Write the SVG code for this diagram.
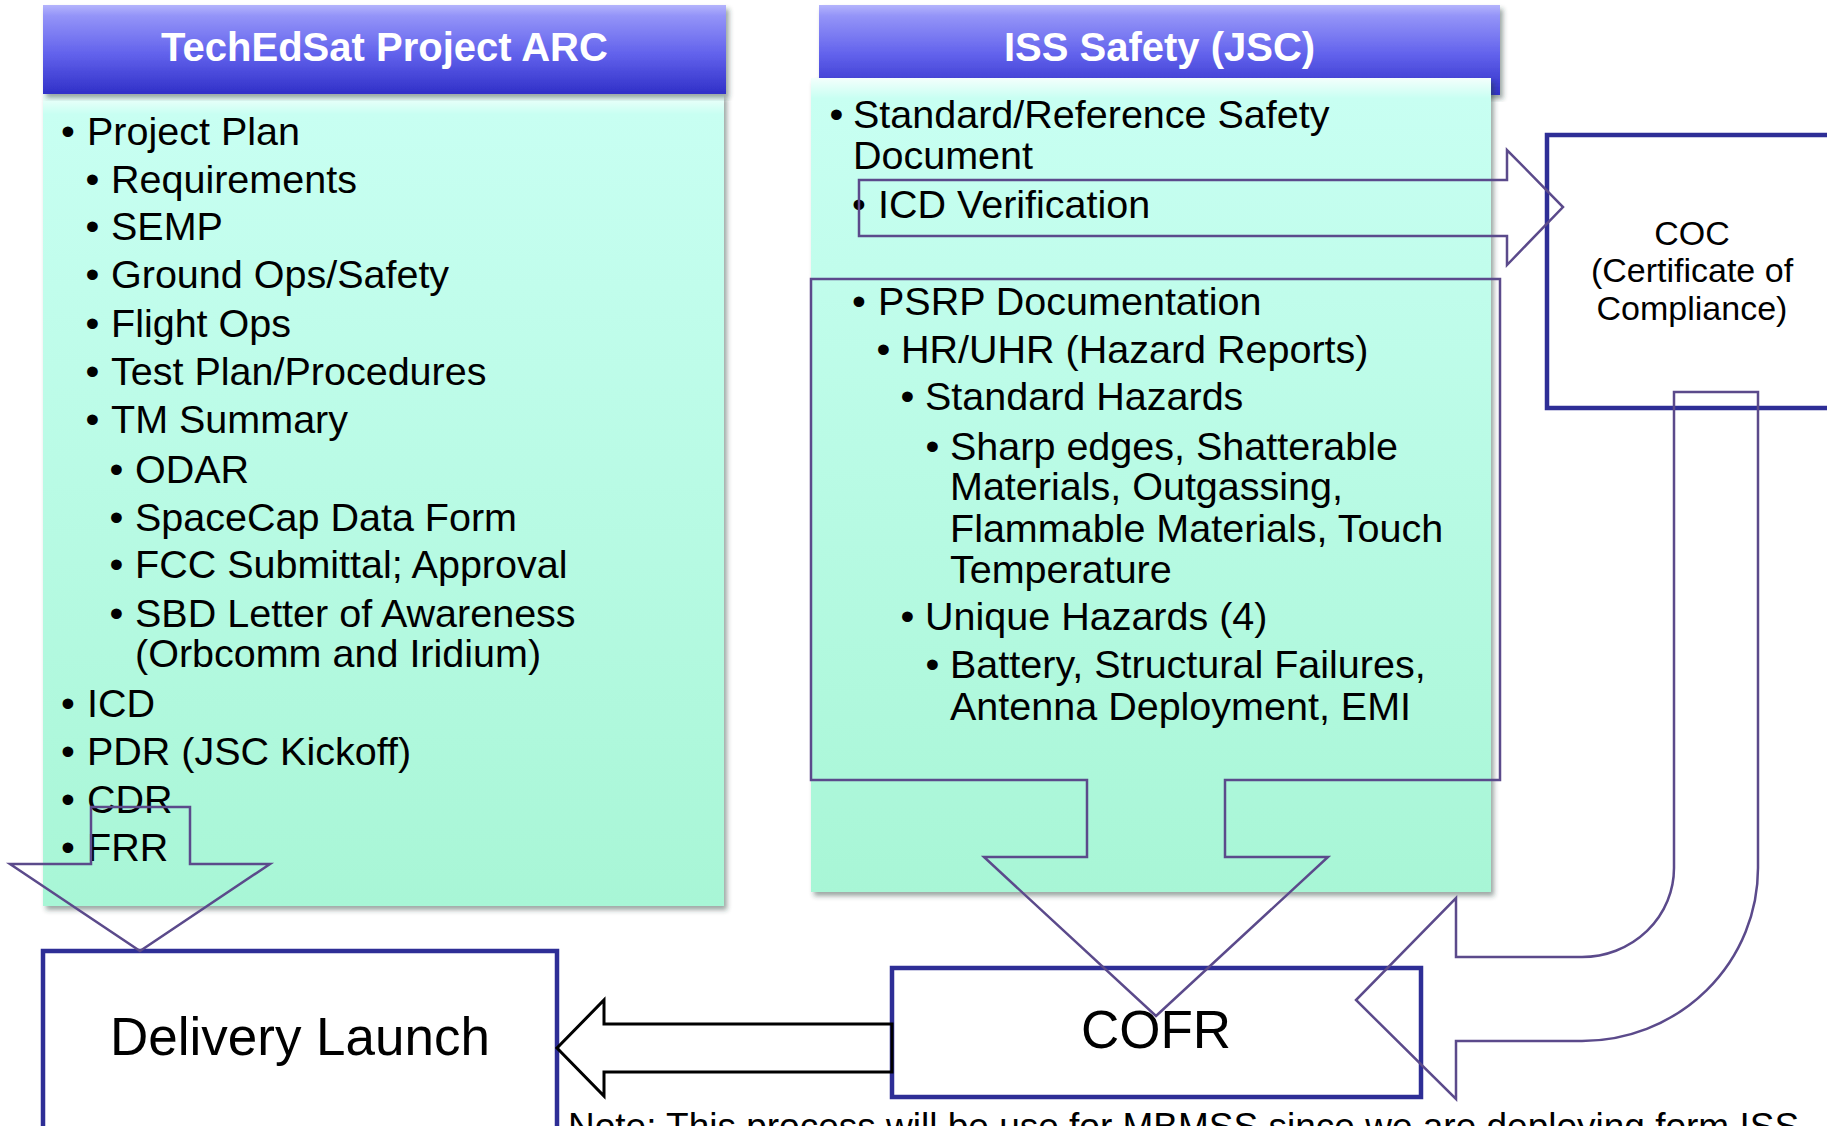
<svg xmlns="http://www.w3.org/2000/svg" width="1827" height="1126" viewBox="0 0 1827 1126">
<defs>
<linearGradient id="hdr" x1="0" y1="0" x2="0" y2="1">
<stop offset="0" stop-color="#b4b4fc"/>
<stop offset="0.12" stop-color="#9494f8"/>
<stop offset="0.55" stop-color="#6262ec"/>
<stop offset="1" stop-color="#3030c8"/>
</linearGradient>
<linearGradient id="body" x1="0" y1="0" x2="0" y2="1">
<stop offset="0" stop-color="#f4fffc"/>
<stop offset="0.025" stop-color="#c8fff2"/>
<stop offset="1" stop-color="#a8f6d6"/>
</linearGradient>
<filter id="sh" x="-5%" y="-5%" width="112%" height="112%">
<feDropShadow dx="3" dy="4" stdDeviation="2.5" flood-color="#203a30" flood-opacity="0.45"/>
</filter>
<style>
.t{font-family:"Liberation Sans",Arial,sans-serif;font-size:39.5px;fill:#000}
.b{text-anchor:middle}
.h{font-family:"Liberation Sans",Arial,sans-serif;font-size:40px;font-weight:bold;fill:#fff;text-anchor:middle}
.box{fill:#fff;stroke:#2e2e96;stroke-width:4.5}
.lbl{font-family:"Liberation Sans",Arial,sans-serif;fill:#000;text-anchor:middle}
.ar{fill:none;stroke:#5b4a8b;stroke-width:2.5;stroke-linejoin:miter}
.ak{fill:none;stroke:#000;stroke-width:3}
</style>
</defs>
<rect width="1827" height="1126" fill="#fff"/>

<g id="node-techedsat">
<rect x="43" y="94" width="681" height="812" fill="url(#body)" filter="url(#sh)"/>
<rect x="43" y="5" width="683" height="89" fill="url(#hdr)" filter="url(#sh)"/>
<text class="h" x="384.5" y="61">TechEdSat Project ARC</text>
<text class="t b" x="68" y="145">•</text><text class="t" x="87" y="145">Project Plan</text>
<text class="t b" x="92.5" y="193">•</text><text class="t" x="111" y="193">Requirements</text>
<text class="t b" x="92.5" y="240">•</text><text class="t" x="111" y="240">SEMP</text>
<text class="t b" x="92.5" y="288">•</text><text class="t" x="111" y="288">Ground Ops/Safety</text>
<text class="t b" x="92.5" y="337">•</text><text class="t" x="111" y="337">Flight Ops</text>
<text class="t b" x="92.5" y="385">•</text><text class="t" x="111" y="385">Test Plan/Procedures</text>
<text class="t b" x="92.5" y="433">•</text><text class="t" x="111" y="433">TM Summary</text>
<text class="t b" x="116.5" y="483">•</text><text class="t" x="135" y="483">ODAR</text>
<text class="t b" x="116.5" y="531">•</text><text class="t" x="135" y="531">SpaceCap Data Form</text>
<text class="t b" x="116.5" y="578">•</text><text class="t" x="135" y="578">FCC Submittal; Approval</text>
<text class="t b" x="116.5" y="627">•</text><text class="t" x="135" y="627">SBD Letter of Awareness</text>
<text class="t" x="135" y="667">(Orbcomm and Iridium)</text>
<text class="t b" x="68" y="717">•</text><text class="t" x="87" y="717">ICD</text>
<text class="t b" x="68" y="765">•</text><text class="t" x="87" y="765">PDR (JSC Kickoff)</text>
<text class="t b" x="68" y="813">•</text><text class="t" x="87" y="813">CDR</text>
<text class="t b" x="68" y="861">•</text><text class="t" x="87" y="861">FRR</text>
</g>

<g id="node-iss">
<rect x="819" y="5" width="681" height="90" fill="url(#hdr)" filter="url(#sh)"/>
<text class="h" x="1159.5" y="61">ISS Safety (JSC)</text>
<rect x="811" y="78" width="680" height="814" fill="url(#body)" filter="url(#sh)"/>
<text class="t b" x="836.5" y="128">•</text><text class="t" x="853" y="128">Standard/Reference Safety</text>
<text class="t" x="853" y="169">Document</text>
<text class="t b" x="859" y="218">•</text><text class="t" x="878" y="218">ICD Verification</text>
<text class="t b" x="859" y="315">•</text><text class="t" x="878" y="315">PSRP Documentation</text>
<text class="t b" x="883.5" y="363">•</text><text class="t" x="901" y="363">HR/UHR (Hazard Reports)</text>
<text class="t b" x="907.5" y="410">•</text><text class="t" x="925" y="410">Standard Hazards</text>
<text class="t b" x="932.5" y="460">•</text><text class="t" x="950" y="460">Sharp edges, Shatterable</text>
<text class="t" x="950" y="500">Materials, Outgassing,</text>
<text class="t" x="950" y="542">Flammable Materials, Touch</text>
<text class="t" x="950" y="583">Temperature</text>
<text class="t b" x="907.5" y="630">•</text><text class="t" x="925" y="630">Unique Hazards (4)</text>
<text class="t b" x="932.5" y="678">•</text><text class="t" x="950" y="678">Battery, Structural Failures,</text>
<text class="t" x="950" y="720">Antenna Deployment, EMI</text>
</g>

<g id="node-coc">
<rect class="box" x="1547" y="135" width="320" height="273"/>
<text class="lbl" x="1692" y="245" font-size="34">COC</text>
<text class="lbl" x="1692" y="282" font-size="34">(Certificate of</text>
<text class="lbl" x="1692" y="320" font-size="34">Compliance)</text>
</g>

<g id="node-cofr">
<rect class="box" x="892" y="968" width="529" height="129"/>
<text class="lbl" x="1156" y="1048" font-size="53">COFR</text>
</g>

<g id="node-delivery">
<rect class="box" x="43" y="951" width="514" height="220"/>
<text class="lbl" x="300" y="1055" font-size="53">Delivery Launch</text>
</g>

<g id="note">
<text class="t" x="568" y="1139" style="font-size:37px">Note:  This process will be use for MBMSS since we are deploying form ISS</text>
</g>

<g id="connectors">
<polygon class="ar" points="91,807 190,807 190,864 270,864 140,951 10,864 91,864"/>
<polygon class="ar" points="859,180 1507,180 1507,150 1563,207 1507,265 1507,236 859,236"/>
<polygon class="ar" points="811,279 1500,279 1500,780 1225,780 1225,857 1328,857 1156,1016 984,857 1087,857 1087,780 811,780"/>
<path class="ar" d="M1674,392 L1758,392 L1758,868 A176,173 0 0 1 1582,1041 L1456,1041 L1456,1099 L1356,1000 L1456,898 L1456,957 L1582,957 A92,89 0 0 0 1674,868 Z"/>
<polygon class="ak" points="892,1024 604,1024 604,1000 557,1048 604,1096 604,1072 892,1072"/>
</g>
</svg>
